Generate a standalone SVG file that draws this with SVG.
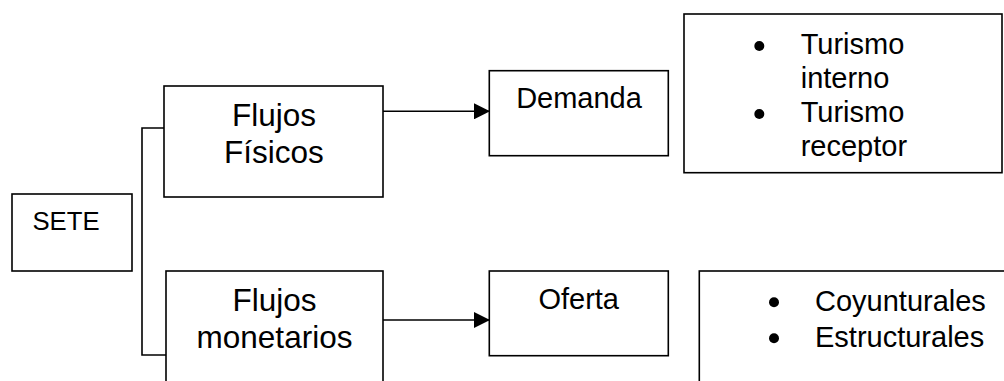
<svg xmlns="http://www.w3.org/2000/svg" width="1004" height="381" viewBox="0 0 1004 381">
<style>
  .box{fill:#fff;stroke:#000;stroke-width:1.6}
  .ln{fill:none;stroke:#000;stroke-width:1.6}
  text{font-family:"Liberation Sans",Arial,sans-serif;fill:#000}
  .c{text-anchor:middle}
  .f32{font-size:31.5px}
  .f29{font-size:29px}
  .f26{font-size:25.7px}
</style>
<defs>
  <marker id="ah" markerWidth="16" markerHeight="16" viewBox="0 0 16 16" refX="15" refY="8" orient="auto" markerUnits="userSpaceOnUse">
    <path d="M0,0 L16,8 L0,16 Z" fill="#000"/>
  </marker>
</defs>
<rect width="1004" height="381" fill="#fff"/>
<g id="connectors">
  <path class="ln" d="M164,128 H142 V355 H166"/>
  <line class="ln" x1="383" y1="111.3" x2="489" y2="111.3" marker-end="url(#ah)"/>
  <line class="ln" x1="383" y1="320" x2="489" y2="320" marker-end="url(#ah)"/>
</g>
<g id="sete">
  <rect class="box" x="12" y="194" width="120" height="77"/>
  <text class="f26 c" x="66" y="230">SETE</text>
</g>
<g id="flujos-fisicos">
  <rect class="box" x="164" y="86" width="219" height="111"/>
  <text class="f32 c" x="274" y="126">Flujos</text>
  <text class="f32 c" x="274" y="162.7">Físicos</text>
</g>
<g id="flujos-monetarios">
  <rect class="box" x="166" y="271" width="217" height="130"/>
  <text class="f32 c" x="274.5" y="311">Flujos</text>
  <text class="f32 c" x="274.5" y="348">monetarios</text>
</g>
<g id="demanda">
  <rect class="box" x="489.3" y="70.7" width="179" height="85"/>
  <text class="f29 c" x="579" y="108">Demanda</text>
</g>
<g id="oferta">
  <rect class="box" x="489.3" y="271" width="179" height="84.7"/>
  <text class="f29 c" x="578.7" y="309.3">Oferta</text>
</g>
<g id="turismo">
  <rect class="box" x="684" y="14" width="318" height="158.7"/>
  <circle cx="759.3" cy="46" r="5"/>
  <circle cx="759.3" cy="114" r="5"/>
  <text class="f29" x="800.7" y="54">Turismo</text>
  <text class="f29" x="800.7" y="88">interno</text>
  <text class="f29" x="800.7" y="122">Turismo</text>
  <text class="f29" x="800.7" y="156">receptor</text>
</g>
<g id="tipos-oferta">
  <rect class="box" x="699.3" y="271" width="330" height="130"/>
  <circle cx="774" cy="302.3" r="5"/>
  <circle cx="774" cy="338.3" r="5"/>
  <text class="f29" x="815" y="310.7">Coyunturales</text>
  <text class="f29" x="815" y="346.7">Estructurales</text>
</g>
</svg>
